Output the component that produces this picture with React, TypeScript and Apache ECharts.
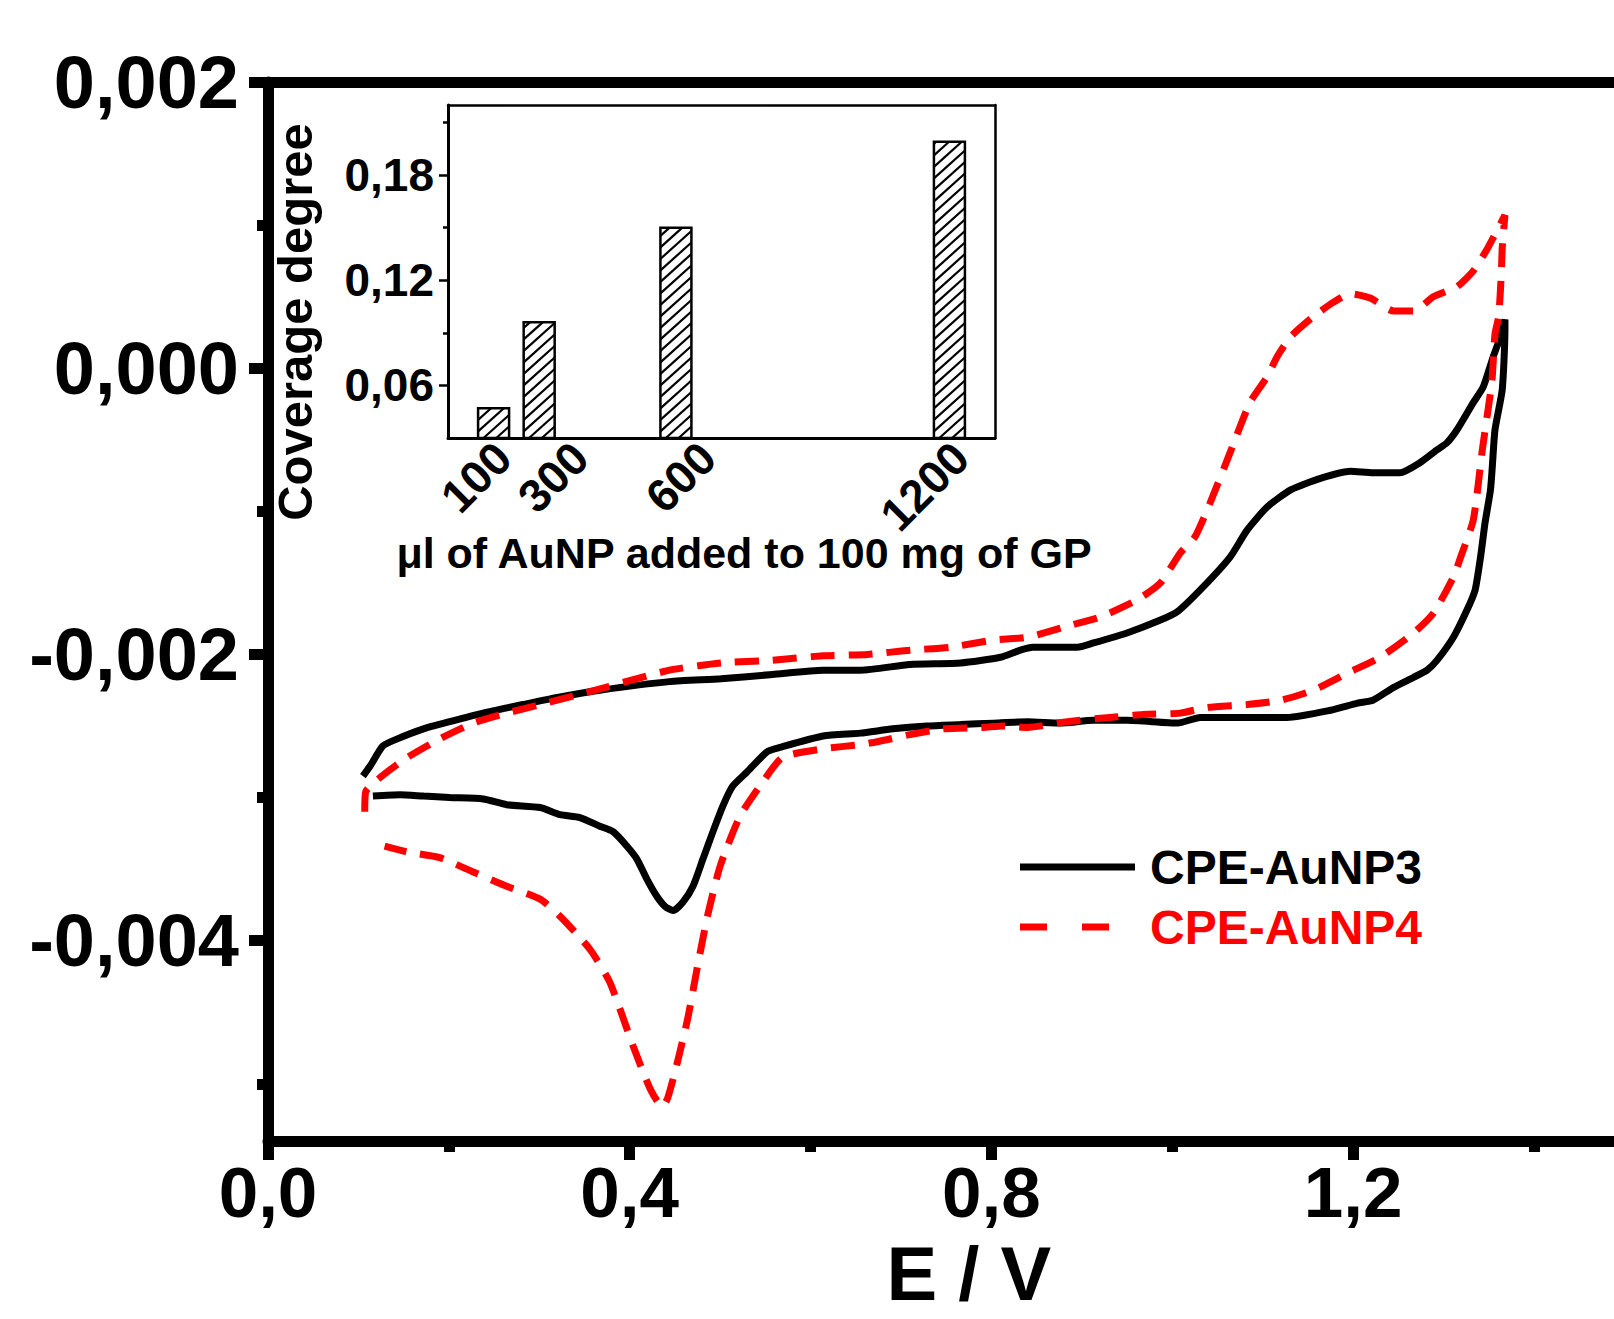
import React, { useEffect, useRef } from 'react';
import * as echarts from 'echarts';

const FONT = 'Liberation Sans, Arial, Helvetica, sans-serif';

// ---- main chart axes ----
const xMin = 0;
const xMax = 1.55;
const yMin = -0.0054;
const yMax = 0.002;
const xTicks = [0, 0.4, 0.8, 1.2];
const xMinorTicks = [0.2, 0.6, 1.0, 1.4];
const yTicks = [-0.004, -0.002, 0, 0.002];
const yMinorTicks = [-0.005, -0.003, -0.001, 0.001];

// ---- CV curves: [E / V, I / A] in scan order ----
const cpeAuNP3: [number, number][] = [
  [0.105, -0.00285], [0.113, -0.00278], [0.127, -0.00264], [0.143, -0.00259],
  [0.172, -0.00252], [0.201, -0.00247], [0.238, -0.00241], [0.282, -0.00235],
  [0.320, -0.00230], [0.367, -0.00225], [0.444, -0.00219], [0.501, -0.00217],
  [0.558, -0.00214], [0.614, -0.00211], [0.655, -0.00211], [0.710, -0.00207],
  [0.766, -0.00206], [0.810, -0.00202], [0.832, -0.00197], [0.846, -0.00195],
  [0.895, -0.00195], [0.913, -0.00192], [0.950, -0.00185], [0.987, -0.00176],
  [1.006, -0.00170], [1.034, -0.00153], [1.064, -0.00132], [1.083, -0.00113],
  [1.105, -0.00097], [1.131, -0.00085], [1.164, -0.00077], [1.197, -0.00072],
  [1.222, -0.00073], [1.252, -0.00073], [1.274, -0.00066], [1.293, -0.00057],
  [1.304, -0.00052], [1.315, -0.00043], [1.333, -0.00024], [1.344, -0.00013],
  [1.355, 0.00008], [1.363, 0.00022], [1.368, 0.00034],
  [1.368, 0.00027], [1.365, -0.00015], [1.357, -0.00043], [1.354, -0.00069],
  [1.352, -0.00085], [1.346, -0.00108], [1.341, -0.00132], [1.335, -0.00155],
  [1.326, -0.00169], [1.311, -0.00188], [1.293, -0.00204], [1.282, -0.00211],
  [1.267, -0.00216], [1.245, -0.00223], [1.222, -0.00232], [1.205, -0.00234],
  [1.175, -0.00239], [1.127, -0.00244], [1.086, -0.00244], [1.031, -0.00244],
  [1.006, -0.00248], [0.950, -0.00246], [0.913, -0.00246], [0.876, -0.00248],
  [0.840, -0.00247], [0.802, -0.00248], [0.766, -0.00249], [0.729, -0.00250],
  [0.691, -0.00252], [0.655, -0.00255], [0.614, -0.00257], [0.566, -0.00265],
  [0.552, -0.00268], [0.530, -0.00282], [0.514, -0.00292], [0.503, -0.00306],
  [0.492, -0.00324], [0.481, -0.00343], [0.470, -0.00362], [0.459, -0.00373],
  [0.448, -0.00379], [0.439, -0.00376], [0.430, -0.00369], [0.419, -0.00357],
  [0.408, -0.00343], [0.397, -0.00334], [0.382, -0.00324], [0.367, -0.00320],
  [0.345, -0.00314], [0.323, -0.00312], [0.301, -0.00307], [0.264, -0.00305],
  [0.238, -0.00301], [0.201, -0.00300], [0.172, -0.00299], [0.146, -0.00298],
  [0.116, -0.00299],
];

const cpeAuNP4: [number, number][] = [
  [0.107, -0.00310], [0.108, -0.00296], [0.126, -0.00285], [0.154, -0.00272],
  [0.190, -0.00259], [0.227, -0.00248], [0.264, -0.00241], [0.301, -0.00235],
  [0.356, -0.00226], [0.444, -0.00211], [0.501, -0.00206], [0.558, -0.00204],
  [0.614, -0.00201], [0.663, -0.00200], [0.710, -0.00197], [0.754, -0.00195],
  [0.802, -0.00190], [0.840, -0.00188], [0.891, -0.00179], [0.920, -0.00174],
  [0.961, -0.00162], [0.987, -0.00150], [1.009, -0.00129], [1.025, -0.00118],
  [1.042, -0.00094], [1.064, -0.00059], [1.086, -0.00024], [1.105, -0.00006],
  [1.116, 0.00008], [1.131, 0.00022], [1.156, 0.00036], [1.178, 0.00046],
  [1.197, 0.00052], [1.219, 0.00049], [1.245, 0.00040], [1.267, 0.00040],
  [1.289, 0.00050], [1.315, 0.00057], [1.333, 0.00068], [1.349, 0.00084],
  [1.368, 0.00107],
  [1.365, 0.00084], [1.364, 0.00066], [1.361, 0.00036], [1.357, 0.00024],
  [1.354, -0.00006], [1.352, -0.00017], [1.343, -0.00057], [1.333, -0.00106],
  [1.319, -0.00132], [1.311, -0.00146], [1.289, -0.00171], [1.267, -0.00185],
  [1.230, -0.00202], [1.194, -0.00213], [1.156, -0.00225], [1.120, -0.00232],
  [1.083, -0.00235], [1.039, -0.00237], [1.009, -0.00241], [0.968, -0.00242],
  [0.931, -0.00244], [0.884, -0.00247], [0.840, -0.00251], [0.813, -0.00250],
  [0.791, -0.00251], [0.747, -0.00252], [0.710, -0.00256], [0.674, -0.00261],
  [0.655, -0.00263], [0.614, -0.00266], [0.569, -0.00272], [0.544, -0.00292],
  [0.522, -0.00313], [0.500, -0.00348], [0.486, -0.00383], [0.475, -0.00418],
  [0.464, -0.00455], [0.452, -0.00487], [0.442, -0.00510], [0.436, -0.00516],
  [0.423, -0.00504], [0.404, -0.00474], [0.378, -0.00429], [0.356, -0.00406],
  [0.323, -0.00383], [0.301, -0.00371], [0.264, -0.00362], [0.227, -0.00352],
  [0.190, -0.00342], [0.154, -0.00338], [0.129, -0.00334],
];

const seriesNames = ['CPE-AuNP3', 'CPE-AuNP4'];
const seriesColors = ['#000000', '#ff0000'];

// ---- inset bar chart ----
const insetLabels = ['100', '300', '600', '1200'];
const insetBarAt = [200, 300, 600, 1200];
const insetLabelAt = [221, 390, 670, 1225];
const insetValues = [0.047, 0.096, 0.150, 0.199];
const insetXMin = 100;
const insetXMax = 1300;
const insetYMin = 0.03;
const insetYMax = 0.22;
const insetYTicks = [0.06, 0.12, 0.18];
const insetYMinorTicks = [0.09, 0.15, 0.21];
const insetBarWidth = 68;

const bold = (size: number, color = '#000') => ({
  fontSize: size,
  fontWeight: 'bold' as const,
  fontFamily: FONT,
  color,
});

function buildOption() {
  const off = { show: false };
  const legendX = 1020;
  const legendY = [867, 927];
  const legendGraphics: any[] = [];
  seriesNames.forEach((name, i) => {
    legendGraphics.push({
      type: 'line',
      shape: { x1: legendX, y1: legendY[i], x2: i === 0 ? legendX + 115 : legendX + 89, y2: legendY[i] },
      style: {
        stroke: seriesColors[i], lineWidth: 7,
        lineDash: i === 0 ? null : [27, 35],
      },
    });
    legendGraphics.push({
      type: 'text', x: legendX + 130, y: legendY[i],
      style: {
        text: name, fill: seriesColors[i], font: `bold 48px ${FONT}`,
        align: 'left', verticalAlign: 'middle',
        textAlign: 'left', textVerticalAlign: 'middle',
      },
    });
  });
  return {
    animation: false,
    backgroundColor: '#fff',
    grid: [
      { left: 268, top: 82, width: 904.2 * (xMax - xMin), height: 1059 },
      { left: 448, top: 105, width: 547, height: 333 },
    ],
    xAxis: [
      {
        type: 'value', gridIndex: 0, min: xMin, max: xMax, position: 'bottom',
        axisLine: { show: true, onZero: false, lineStyle: { color: '#000', width: 11 } },
        axisTick: { show: true, customValues: xTicks, length: 19, lineStyle: { color: '#000', width: 11 } },
        axisLabel: {
          show: true, customValues: xTicks, margin: 16, ...bold(71),
          formatter: (v: number) => v.toFixed(1).replace('.', ','),
        },
        splitLine: off,
        name: 'E / V', nameLocation: 'middle', nameGap: 94,
        nameTextStyle: bold(76),
      },
      {
        type: 'value', gridIndex: 0, min: xMin, max: xMax, position: 'bottom',
        axisLine: { show: false, onZero: false },
        axisTick: { show: true, customValues: xMinorTicks, length: 11, lineStyle: { color: '#000', width: 11 } },
        axisLabel: off, splitLine: off,
      },
      {
        type: 'value', gridIndex: 0, min: xMin, max: xMax, position: 'top',
        axisLine: { show: true, onZero: false, lineStyle: { color: '#000', width: 11 } },
        axisTick: off, axisLabel: off, splitLine: off,
      },
      {
        type: 'value', gridIndex: 1, min: insetXMin, max: insetXMax, position: 'bottom',
        axisLine: { show: true, onZero: false, lineStyle: { color: '#000', width: 3 } },
        axisTick: off,
        axisLabel: {
          show: true, customValues: insetLabelAt, rotate: 45, margin: 12, ...bold(46),
          formatter: (v: number) => {
            let best = 0;
            insetLabelAt.forEach((p, i) => {
              if (Math.abs(p - v) < Math.abs(insetLabelAt[best] - v)) best = i;
            });
            return insetLabels[best];
          },
        },
        splitLine: off,
      },
      {
        type: 'value', gridIndex: 1, min: insetXMin, max: insetXMax, position: 'top',
        axisLine: { show: true, onZero: false, lineStyle: { color: '#000', width: 2.5 } },
        axisTick: off, axisLabel: off, splitLine: off,
      },
    ],
    yAxis: [
      {
        type: 'value', gridIndex: 0, min: yMin, max: yMax, position: 'left',
        axisLine: { show: true, onZero: false, lineStyle: { color: '#000', width: 11 } },
        axisTick: { show: true, customValues: yTicks, length: 19, lineStyle: { color: '#000', width: 11 } },
        axisLabel: {
          show: true, customValues: yTicks, margin: 29, ...bold(74),
          formatter: (v: number) => v.toFixed(3).replace('.', ','),
        },
        splitLine: off,
      },
      {
        type: 'value', gridIndex: 0, min: yMin, max: yMax, position: 'left',
        axisLine: { show: false, onZero: false },
        axisTick: { show: true, customValues: yMinorTicks, length: 11, lineStyle: { color: '#000', width: 11 } },
        axisLabel: off, splitLine: off,
      },
      {
        type: 'value', gridIndex: 1, min: insetYMin, max: insetYMax, position: 'left',
        axisLine: { show: true, onZero: false, lineStyle: { color: '#000', width: 3 } },
        axisTick: { show: true, customValues: insetYTicks, length: 9, lineStyle: { color: '#000', width: 2.5 } },
        axisLabel: {
          show: true, customValues: insetYTicks, margin: 14, ...bold(46),
          formatter: (v: number) => v.toFixed(2).replace('.', ','),
        },
        splitLine: off,
      },
      {
        type: 'value', gridIndex: 1, min: insetYMin, max: insetYMax, position: 'left',
        axisLine: { show: false, onZero: false },
        axisTick: { show: true, customValues: insetYMinorTicks, length: 5, lineStyle: { color: '#000', width: 2.5 } },
        axisLabel: off, splitLine: off,
      },
      {
        type: 'value', gridIndex: 1, min: insetYMin, max: insetYMax, position: 'right',
        axisLine: { show: true, onZero: false, lineStyle: { color: '#000', width: 2.5 } },
        axisTick: off, axisLabel: off, splitLine: off,
      },
    ],
    graphic: [
      {
        type: 'text', x: 295, y: 322, rotation: Math.PI / 2,
        style: {
          text: 'Coverage degree', fill: '#000',
          font: `bold 49px ${FONT}`,
          align: 'center', verticalAlign: 'middle',
          textAlign: 'center', textVerticalAlign: 'middle',
        },
      },
      {
        type: 'text', x: 744, y: 553,
        style: {
          text: 'μl of AuNP added to 100 mg of GP', fill: '#000',
          font: `bold 43px ${FONT}`,
          align: 'center', verticalAlign: 'middle',
          textAlign: 'center', textVerticalAlign: 'middle',
        },
      },
      ...legendGraphics,
    ],
    series: [
      {
        name: seriesNames[0], type: 'line', xAxisIndex: 0, yAxisIndex: 0,
        data: cpeAuNP3, symbol: 'none', showSymbol: false, smooth: 0.2,
        lineStyle: { color: seriesColors[0], width: 7 }, itemStyle: { color: seriesColors[0] }, z: 3,
      },
      {
        name: seriesNames[1], type: 'line', xAxisIndex: 0, yAxisIndex: 0,
        data: cpeAuNP4, symbol: 'none', showSymbol: false, smooth: 0.2,
        lineStyle: { color: seriesColors[1], width: 7, type: [24, 14], cap: 'butt' },
        itemStyle: { color: seriesColors[1] }, z: 4,
      },
      {
        type: 'custom', xAxisIndex: 3, yAxisIndex: 2,
        data: insetBarAt.map((x, i) => [x, insetValues[i]]),
        encode: { x: 0, y: 1 },
        z: 5,
        renderItem: (params: any, api: any) => {
          const x = api.value(0);
          const v = api.value(1);
          const pTop = api.coord([x, v]);
          const pBase = api.coord([x, insetYMin]);
          const w = api.size([insetBarWidth, 0])[0];
          const left = pTop[0] - w / 2;
          const yTop = pTop[1];
          const yBot = pBase[1];
          const k = 0.9;
          const s = 11.5;
          const children: any[] = [
            { type: 'rect', shape: { x: left, y: yTop, width: w, height: yBot - yTop }, style: { fill: '#fff' } },
          ];
          for (let c = yBot + w * k; c > yTop; c -= s) {
            const t0 = Math.max(0, (c - yBot) / k);
            const t1 = Math.min(w, (c - yTop) / k);
            if (t1 > t0) {
              children.push({
                type: 'line',
                shape: { x1: left + t0, y1: c - t0 * k, x2: left + t1, y2: c - t1 * k },
                style: { stroke: '#000', lineWidth: 2.2 },
              });
            }
          }
          children.push({
            type: 'rect', shape: { x: left, y: yTop, width: w, height: yBot - yTop },
            style: { fill: 'none', stroke: '#000', lineWidth: 2.5 },
          });
          return { type: 'group', children };
        },
      },
    ],
  };
}

export default function App() {
  const ref = useRef<HTMLDivElement>(null);
  useEffect(() => {
    if (!ref.current) return;
    const chart = echarts.init(ref.current, undefined, { renderer: 'svg' });
    chart.setOption(buildOption() as any);
    return () => chart.dispose();
  }, []);
  return (
    <div style={{ position: 'absolute', left: 0, top: 0, width: 1614, height: 1319, overflow: 'hidden', background: '#fff' }}>
      <div ref={ref} style={{ width: 1700, height: 1319 }} />
    </div>
  );
}
